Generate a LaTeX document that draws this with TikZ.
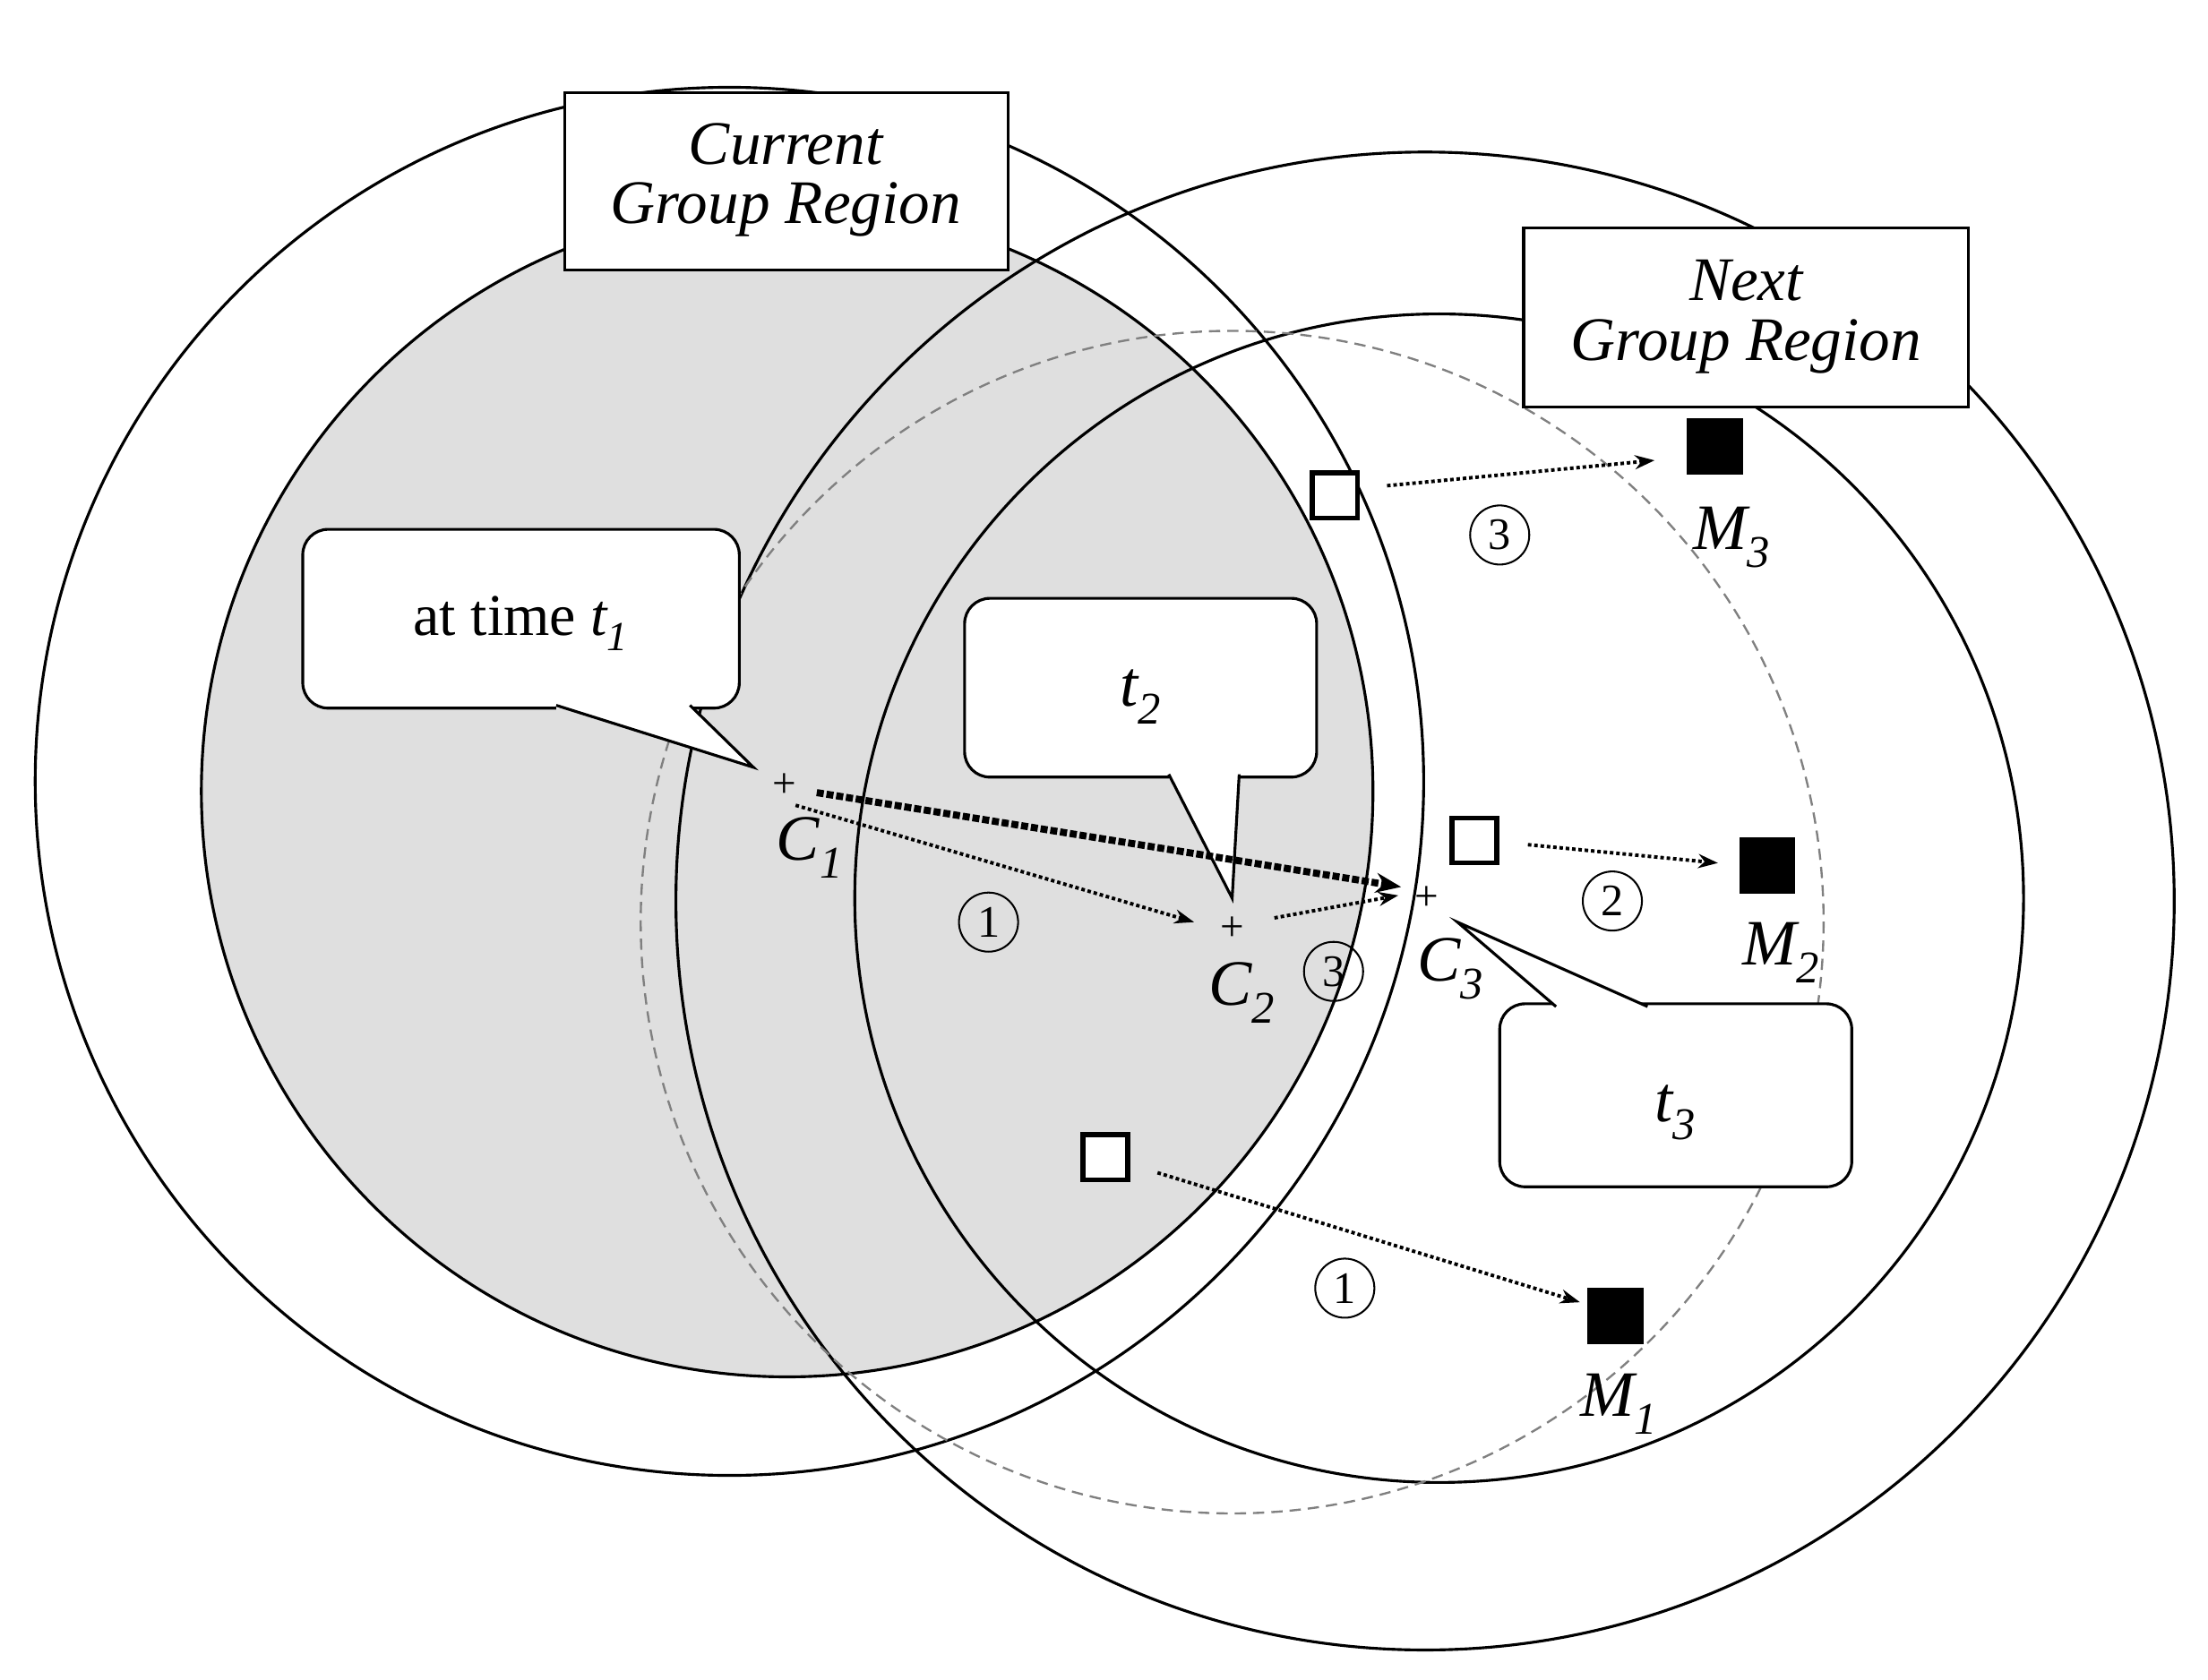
\documentclass[tikz,border=0pt]{standalone}
\usepackage{fontspec}
\setmainfont{Liberation Serif}
\usetikzlibrary{arrows.meta}
\begin{document}
\begin{tikzpicture}[x=1pt,y=-1pt,line width=2pt,
 lbl/.style={font=\fontsize{44}{50}\selectfont\itshape,align=center},
 box/.style={draw,fill=white,line width=2pt},
 call/.style={draw,fill=white,line width=2pt,rounded corners=18pt},
 osq/.style={draw,fill=white,line width=3.5pt,minimum size=32pt,inner sep=0},
 fsq/.style={draw,fill=black,minimum size=38pt,inner sep=0},
 dar/.style={dotted,line width=2.5pt,-{Stealth[length=14pt,width=10pt]}},
 num/.style={draw,circle,line width=1.3pt,minimum size=42pt,inner sep=0,font=\fontsize{32}{34}\selectfont},
 cl/.style={font=\fontsize{46}{50}\selectfont\itshape}]
\useasboundingbox (0,0) rectangle (1568,1193);
\fill[gray!25] (559,562) circle (416);
\draw (559,562) circle (416);
\draw (518,555) circle (493);
\draw (1012,640) circle (532);
\draw (1022,638) circle (415);
\draw[gray,dashed,line width=1.5pt,dash pattern=on 8pt off 5pt] (875,655) circle (420);
% boxes
\draw[box] (401,66) rectangle (716,192);
\node[lbl] (cur) at (558,128) {Current\\[-8pt]Group Region};
\draw[box] (1082,162) rectangle (1398,289);
\node[lbl] (nxt) at (1240,225) {Next\\[-8pt]Group Region};
% callouts
\draw[call] (395,503) -- (215,503) -- (215,376) -- (525,376) -- (525,503) -- (490,503);
\draw[line width=2pt,fill=white] (395,501) -- (535,545) -- (490,501);
\node[font=\fontsize{42}{46}\selectfont] (t1) at (370,443) {at time \textit{t\textsubscript{1}}};
\draw[call] (830,552) -- (685,552) -- (685,425) -- (935,425) -- (935,552) -- (880,552);
\draw[line width=2pt,fill=white] (830,550) -- (875,638) -- (880,550);
\node[cl] (t2) at (810,495) {t\textsubscript{2}};
\draw[call] (1105,713) -- (1315,713) -- (1315,843) -- (1065,843) -- (1065,713) -- (1105,713);
\draw[line width=2pt,fill=white] (1105,715) -- (1035,655) -- (1170,715);
\node[cl] (t3) at (1190,790) {t\textsubscript{3}};
% centers
\node[font=\fontsize{30}{30}\selectfont] (c1) at (557,558) {+};
\node[cl] (c1l) at (575,602) {C\textsubscript{1}};
\node[font=\fontsize{30}{30}\selectfont] (c2) at (875,660) {+};
\node[cl] (c2l) at (882,705) {C\textsubscript{2}};
\node[font=\fontsize{30}{30}\selectfont] (c3) at (1013,638) {+};
\node[cl] (c3l) at (1030,688) {C\textsubscript{3}};
% squares
\node[osq] (o3) at (948,352) {};
\node[osq] (o2) at (1047,597) {};
\node[osq] (o1) at (785,822) {};
\node[fsq] (m3) at (1218,317) {};
\node[fsq] (m2) at (1255,615) {};
\node[fsq] (m1) at (1147,935) {};
\node[cl] (m3l) at (1230,382) {M\textsubscript{3}};
\node[cl] (m2l) at (1265,677) {M\textsubscript{2}};
\node[cl] (m1l) at (1150,997) {M\textsubscript{1}};
% arrows
\coordinate (a1) at (985,345); \coordinate (b1) at (1175,327);
\draw[dar] (a1) -- (b1);
\coordinate (a2) at (1085,600); \coordinate (b2) at (1220,613);
\draw[dar] (a2) -- (b2);
\coordinate (a3) at (822,833); \coordinate (b3) at (1122,925);
\draw[dar] (a3) -- (b3);
\coordinate (p1) at (565,572); \coordinate (q1) at (848,655);
\draw[dar] (p1) -- (q1);
\coordinate (p2) at (905,652); \coordinate (q2) at (993,636);
\draw[dar] (p2) -- (q2);
\coordinate (p3) at (580,563); \coordinate (q3) at (995,630);
\draw[dotted,line width=5pt,-{Stealth[length=18pt,width=14pt]}] (p3) -- (q3);
% numbers
\node[num] (n1) at (702,655) {1};
\node[num] (n3a) at (947,690) {3};
\node[num] (n3b) at (1065,380) {3};
\node[num] (n2) at (1145,640) {2};
\node[num] (n1b) at (955,915) {1};
\end{tikzpicture}
\end{document}
